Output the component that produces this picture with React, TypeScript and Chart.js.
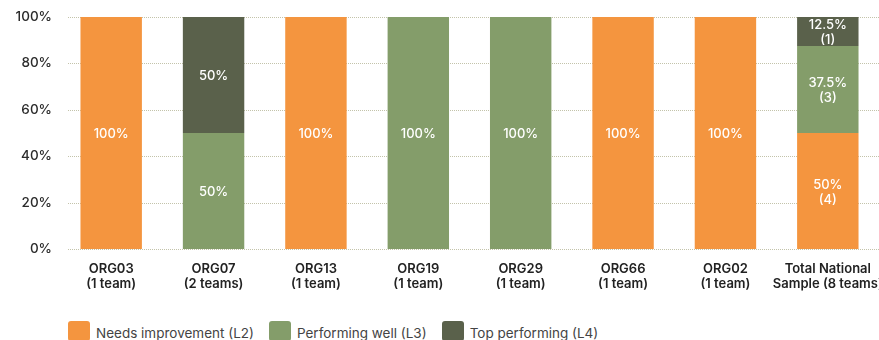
import React, { useEffect, useRef } from "react";
import { Chart, registerables } from "chart.js";

Chart.register(...registerables);

// Organisations (two-line axis labels)
const categories: string[][] = [
  ["ORG03", "(1 team)"],
  ["ORG07", "(2 teams)"],
  ["ORG13", "(1 team)"],
  ["ORG19", "(1 team)"],
  ["ORG29", "(1 team)"],
  ["ORG66", "(1 team)"],
  ["ORG02", "(1 team)"],
  ["Total National", "Sample (8 teams)"],
];

// Share of teams at each level (%)
const needsImprovement = [100, 0, 100, 0, 0, 100, 100, 50];
const performingWell = [0, 50, 0, 100, 100, 0, 0, 37.5];
const topPerforming = [0, 50, 0, 0, 0, 0, 0, 12.5];

// Team counts shown under the percentage (national total only)
const needsImprovementCounts = [null, null, null, null, null, null, null, 4];
const performingWellCounts = [null, null, null, null, null, null, null, 3];
const topPerformingCounts = [null, null, null, null, null, null, null, 1];

const yTicks = [0, 20, 40, 60, 80, 100];

const seriesNames = ["Needs improvement (L2)", "Performing well (L3)", "Top performing (L4)"];
const seriesColors = ["#F4953F", "#849D6A", "#5A614B"];

const FONT = "Inter, 'Noto Sans', sans-serif";

// Dotted horizontal guide lines drawn behind the bars
const dottedGrid = {
  id: "dottedGrid",
  beforeDatasetsDraw(chart: any) {
    const { ctx, chartArea, scales } = chart;
    ctx.save();
    ctx.strokeStyle = "#c3c3aa";
    ctx.lineWidth = 1;
    ctx.setLineDash([1, 1]);
    for (const v of yTicks) {
      const y = Math.round(scales.y.getPixelForValue(v)) + 0.5;
      ctx.beginPath();
      ctx.moveTo(chartArea.left + 8, y);
      ctx.lineTo(chartArea.right, y);
      ctx.stroke();
    }
    ctx.restore();
  },
};

// White value labels centred in each segment
const segmentLabels = {
  id: "segmentLabels",
  afterDatasetsDraw(chart: any) {
    const { ctx } = chart;
    const counts = [needsImprovementCounts, performingWellCounts, topPerformingCounts];
    ctx.save();
    ctx.fillStyle = "#ffffff";
    ctx.font = `500 13px ${FONT}`;
    ctx.textAlign = "center";
    ctx.textBaseline = "middle";
    chart.data.datasets.forEach((ds: any, di: number) => {
      const meta = chart.getDatasetMeta(di);
      meta.data.forEach((bar: any, i: number) => {
        const v = ds.data[i];
        if (!v) return;
        const yc = (bar.y + bar.base) / 2;
        const c = counts[di][i];
        if (c != null) {
          ctx.fillText(`${v}%`, bar.x, yc - 6);
          ctx.fillText(`(${c})`, bar.x, yc + 9);
        } else {
          ctx.fillText(`${v}%`, bar.x, yc + 1);
        }
      });
    });
    ctx.restore();
  },
};

export default function App() {
  const canvasRef = useRef<HTMLCanvasElement | null>(null);

  useEffect(() => {
    document.body.style.margin = "0";
    const canvas = canvasRef.current;
    if (!canvas) return;
    const values = [needsImprovement, performingWell, topPerforming];
    const chart = new Chart(canvas, {
      type: "bar",
      data: {
        labels: categories,
        datasets: values.map((data, i) => ({
          label: seriesNames[i],
          data,
          backgroundColor: seriesColors[i],
          borderWidth: 0,
          barPercentage: 0.6,
          categoryPercentage: 1,
        })),
      },
      options: {
        responsive: false,
        animation: false,
        layout: { padding: { top: 17, left: 0, right: 0, bottom: 0 } },
        plugins: {
          legend: { display: false },
          tooltip: { enabled: false },
        },
        scales: {
          x: {
            stacked: true,
            grid: { display: false, drawTicks: false },
            border: { display: false },
            ticks: {
              color: "#222222",
              font: { family: FONT, size: 13, weight: 600, lineHeight: 1.2 },
              padding: 12,
              maxRotation: 0,
              autoSkip: false,
            },
            afterFit(scale: any) {
              scale.height = 51;
              scale.paddingLeft = 0;
              scale.paddingRight = 0;
            },
          },
          y: {
            stacked: true,
            min: 0,
            max: 100,
            grid: { display: false, drawTicks: false },
            border: { display: false },
            afterBuildTicks(scale: any) {
              scale.ticks = yTicks.map((v) => ({ value: v }));
            },
            ticks: {
              color: "#2b2b2b",
              font: { family: FONT, size: 13.5, weight: 500 },
              padding: 8,
              callback: (v: any) => `${v}%`,
            },
            afterFit(scale: any) {
              scale.width = 60;
            },
          },
        },
      },
      plugins: [dottedGrid, segmentLabels],
    });
    return () => chart.destroy();
  }, []);

  return (
    <div style={{ position: "relative", width: 879, height: 340, overflow: "hidden", fontFamily: FONT }}>
      <canvas ref={canvasRef} width={879} height={300} style={{ display: "block" }} />
      <div
        style={{
          position: "absolute",
          left: 68,
          top: 319,
          display: "flex",
          alignItems: "flex-start",
        }}
      >
        {seriesNames.map((name, i) => (
          <div key={name} style={{ display: "flex", alignItems: "center", marginRight: 15 }}>
            <span
              style={{
                display: "inline-block",
                width: 22,
                height: 20,
                borderRadius: 3,
                background: seriesColors[i],
                marginRight: 6,
              }}
            />
            <span style={{ fontSize: 13.5, color: "#444444", lineHeight: "20px", marginTop: 4 }}>{name}</span>
          </div>
        ))}
      </div>
    </div>
  );
}
